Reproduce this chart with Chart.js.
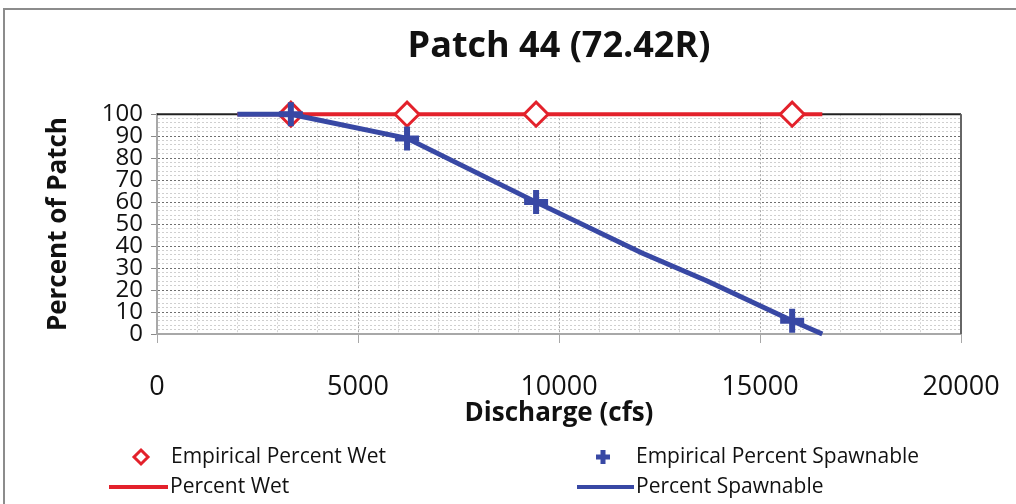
<!DOCTYPE html>
<html>
<head>
<meta charset="utf-8">
<script src="https://cdn.jsdelivr.net/npm/chart.js@4.4.0/dist/chart.umd.min.js"></script>
<style>
  html, body { margin: 0; padding: 0; background: #fff; }
  #wrap { position: relative; width: 1016px; height: 504px; }
</style>
</head>
<body>
<div id="wrap"><canvas id="chart" width="1016" height="504"></canvas></div>
<script>
// measured points (discharge in cfs, percent of patch)
var empiricalQ = [3330, 6220, 9430, 15800];
var empiricalWet = [100, 100, 100, 100];
var empiricalSpawn = [100, 89, 60, 6];

// fitted curves
var wetCurveQ = [2000, 16550];
var wetCurveP = [100, 100];
var spawnCurveQ = [2000, 3330, 6220, 9430, 12050, 13700, 15800, 16550];
var spawnCurveP = [100, 100, 89, 60, 37, 24, 6, 0];

var xTicks = [0, 5000, 10000, 15000, 20000];

var RED = '#e3212b';
var BLUE = '#3848a4';
var FONT = "'Open Sans', sans-serif";

function pts(xs, ys) {
  var out = [];
  for (var i = 0; i < xs.length; i++) out.push({x: xs[i], y: ys[i]});
  return out;
}

// outer frame, plot-area border and a two-column legend underneath
var extras = {
  id: 'extras',
  beforeDraw: function(chart) {
    var ctx = chart.ctx;
    ctx.save();
    ctx.fillStyle = '#fff';
    ctx.fillRect(0, 0, chart.width, chart.height);
    ctx.strokeStyle = '#8c8c8c';
    ctx.lineWidth = 2;
    ctx.strokeRect(4, 9, chart.width + 10, chart.height + 10);
    ctx.restore();
  },
  beforeDatasetsDraw: function(chart) {
    var ctx = chart.ctx, a = chart.chartArea;
    ctx.save();
    ctx.lineWidth = 2;
    ctx.strokeStyle = '#222';
    ctx.beginPath();
    ctx.moveTo(a.left, a.top); ctx.lineTo(a.right, a.top);
    ctx.stroke();
    ctx.strokeStyle = '#666';
    ctx.beginPath();
    ctx.moveTo(a.right, a.top); ctx.lineTo(a.right, a.bottom);
    ctx.stroke();
    ctx.restore();
  },
  afterDraw: function(chart) {
    var ctx = chart.ctx;
    ctx.save();
    ctx.font = '21px ' + FONT;
    ctx.fillStyle = '#111';
    ctx.textBaseline = 'middle';
    var ds = chart.data.datasets;
    var r1 = 457, r2 = 487;
    // diamond
    ctx.strokeStyle = RED; ctx.lineWidth = 3;
    ctx.beginPath();
    ctx.moveTo(141, r1 - 7); ctx.lineTo(148, r1); ctx.lineTo(141, r1 + 7); ctx.lineTo(134, r1);
    ctx.closePath(); ctx.stroke();
    ctx.fillText(ds[1].label, 171, r1);
    // cross
    ctx.strokeStyle = BLUE; ctx.lineWidth = 5;
    ctx.beginPath();
    ctx.moveTo(603, r1 - 7); ctx.lineTo(603, r1 + 7);
    ctx.moveTo(596, r1); ctx.lineTo(610, r1);
    ctx.stroke();
    ctx.fillText(ds[3].label, 636, r1);
    // lines
    ctx.lineWidth = 4;
    ctx.strokeStyle = RED;
    ctx.beginPath(); ctx.moveTo(109, r2); ctx.lineTo(168, r2); ctx.stroke();
    ctx.fillText(ds[0].label, 170, r2);
    ctx.strokeStyle = BLUE;
    ctx.beginPath(); ctx.moveTo(577, r2); ctx.lineTo(634, r2); ctx.stroke();
    ctx.fillText(ds[2].label, 636, r2);
    ctx.restore();
  }
};

new Chart(document.getElementById('chart'), {
  type: 'scatter',
  data: {
    datasets: [
      {
        type: 'line', label: 'Percent Wet', data: pts(wetCurveQ, wetCurveP),
        borderColor: RED, borderWidth: 4, pointRadius: 0, fill: false, order: 4, clip: false
      },
      {
        label: 'Empirical Percent Wet', data: pts(empiricalQ, empiricalWet),
        pointStyle: 'rectRot', pointRadius: 12, pointBorderWidth: 3,
        borderColor: RED, backgroundColor: '#fff', order: 3, clip: false
      },
      {
        type: 'line', label: 'Percent Spawnable', data: pts(spawnCurveQ, spawnCurveP),
        borderColor: BLUE, borderWidth: 5, pointRadius: 0, fill: false, order: 2, clip: false
      },
      {
        label: 'Empirical Percent Spawnable', data: pts(empiricalQ, empiricalSpawn),
        pointStyle: 'cross', pointRadius: 12, pointBorderWidth: 6,
        borderColor: BLUE, backgroundColor: BLUE, order: 1, clip: false
      }
    ]
  },
  options: {
    responsive: false,
    animation: false,
    layout: { padding: { left: 8, right: 55, top: 0, bottom: 75 } },
    plugins: {
      legend: { display: false },
      tooltip: { enabled: false },
      title: {
        display: true, fullSize: false, text: 'Patch 44 (72.42R)', color: '#111',
        font: { family: FONT, size: 36, weight: 'bold', lineHeight: 1.2 },
        padding: { top: 25, bottom: 46 }
      }
    },
    scales: {
      x: {
        type: 'linear', min: 0, max: 20000,
        afterBuildTicks: function(s) {
          var t = [];
          for (var v = 0; v <= 20000; v += 1000) t.push({value: v});
          s.ticks = t;
        },
        ticks: {
          autoSkip: false, maxRotation: 0, padding: 28, color: '#111',
          font: { family: FONT, size: 27 },
          callback: function(v) { return xTicks.indexOf(v) >= 0 ? String(v) : ''; }
        },
        grid: {
          color: function(c) { return c.tick && c.tick.value % 5000 === 0 ? '#a8a8a8' : '#d4d4d4'; },
          tickColor: function(c) { return c.tick && c.tick.value % 5000 === 0 ? '#a8a8a8' : 'rgba(0,0,0,0)'; },
          tickLength: 9, lineWidth: 1
        },
        border: { color: '#a8a8a8', width: 2, dash: [2, 2] },
        title: {
          display: true, text: 'Discharge (cfs)', color: '#111',
          font: { family: FONT, size: 26, weight: 'bold', lineHeight: 1.2 },
          padding: { top: 0, bottom: 0 }
        },
        afterFit: function(s) {
          s.height = 95;
          s.paddingLeft = 0;
          s.paddingRight = 0;
        }
      },
      y: {
        min: 0, max: 100,
        ticks: {
          stepSize: 2, autoSkip: false, padding: 8, color: '#111',
          font: { family: FONT, size: 24, lineHeight: 1 },
          callback: function(v) { return v % 10 === 0 ? String(v) : ''; }
        },
        grid: {
          color: function(c) { return c.tick && c.tick.value % 10 === 0 ? '#6e6e6e' : '#cfcfcf'; },
          tickColor: function(c) { return c.tick && c.tick.value % 10 === 0 ? '#8a8a8a' : 'rgba(0,0,0,0)'; },
          tickLength: 6, lineWidth: 1
        },
        border: { color: '#a8a8a8', width: 2, dash: [2, 2] },
        title: {
          display: true, text: 'Percent of Patch', color: '#111',
          font: { family: FONT, size: 26, weight: 'bold', lineHeight: 1.2 },
          padding: { top: 35, bottom: 0 }
        },
        afterFit: function(s) {
          s.width = 149;
          s.paddingTop = 0;
          s.paddingBottom = 0;
        }
      }
    }
  },
  plugins: [extras]
});
</script>
</body>
</html>
